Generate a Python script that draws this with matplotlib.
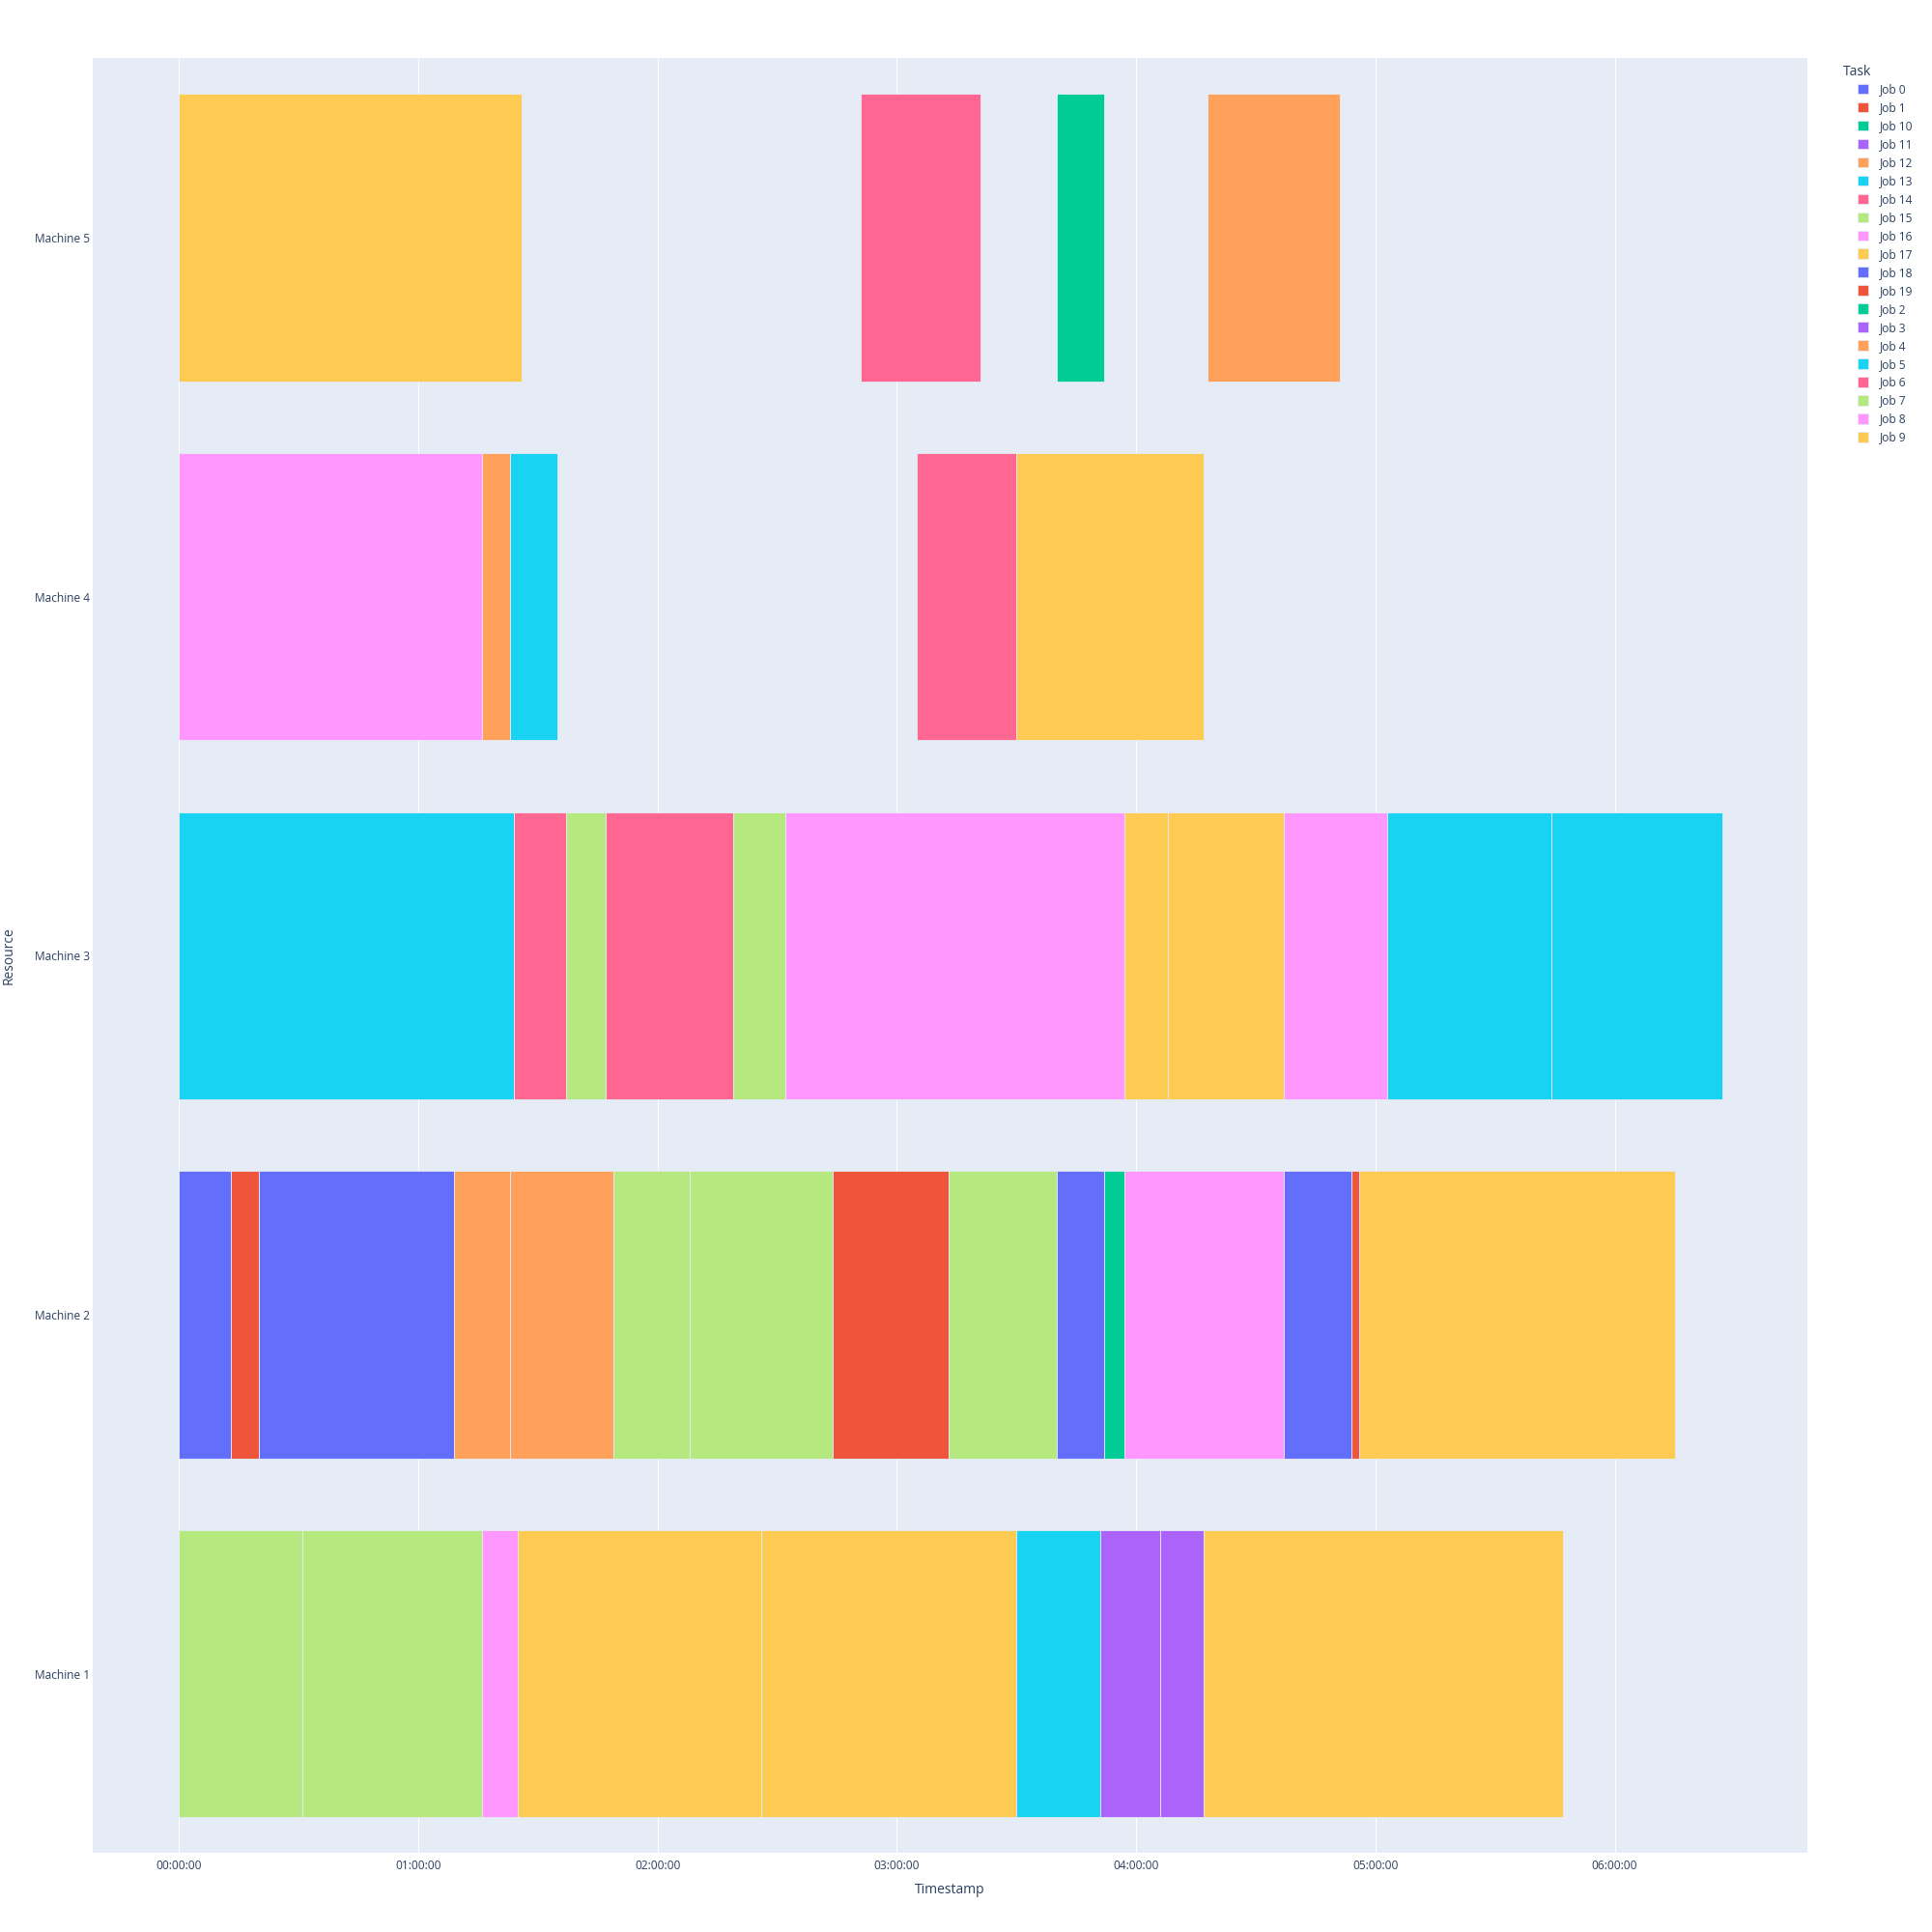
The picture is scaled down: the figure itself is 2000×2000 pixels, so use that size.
import matplotlib
matplotlib.use("Agg")
import matplotlib.pyplot as plt
from matplotlib.patches import Patch

# schedule (minutes from start)
machines = ["Machine 1"] * 9 + ["Machine 2"] * 15 + ["Machine 3"] * 11 + ["Machine 4"] * 5 + ["Machine 5"] * 4
jobs = [
    "Job 7", "Job 15", "Job 8", "Job 17", "Job 9", "Job 13", "Job 3", "Job 11", "Job 17",
    "Job 0", "Job 1", "Job 18", "Job 4", "Job 12", "Job 7", "Job 15", "Job 19", "Job 7",
    "Job 0", "Job 2", "Job 16", "Job 18", "Job 1", "Job 9",
    "Job 5", "Job 6", "Job 15", "Job 14", "Job 7", "Job 8", "Job 17", "Job 9", "Job 16",
    "Job 13", "Job 5",
    "Job 16", "Job 12", "Job 13", "Job 14", "Job 17",
    "Job 9", "Job 6", "Job 10", "Job 4",
]
start_min = [
    0, 31, 76, 85, 146, 210, 231, 246, 257,
    0, 13, 20, 69, 83, 109, 128, 164, 193, 220, 232, 237, 277, 294, 296,
    0, 84, 97, 107, 139, 152, 237, 248, 277, 303, 344,
    0, 76, 83, 185, 210,
    0, 171, 220, 258,
]
end_min = [
    31, 76, 85, 146, 210, 231, 246, 257, 347,
    13, 20, 69, 83, 109, 128, 164, 193, 220, 232, 237, 277, 294, 296, 375,
    84, 97, 107, 139, 152, 237, 248, 277, 303, 344, 387,
    76, 83, 95, 210, 257,
    86, 201, 232, 291,
]

machine_order = ["Machine 1", "Machine 2", "Machine 3", "Machine 4", "Machine 5"]
job_names = ["Job %d" % i for i in range(20)]
job_names_sorted = sorted(job_names)  # plotly legend order: Job 0, Job 1, Job 10, ...
palette = ["#636EFA", "#EF553B", "#00CC96", "#AB63FA", "#FFA15A",
           "#19D3F3", "#FF6692", "#B6E880", "#FF97FF", "#FECB52"]
job_color = {j: palette[i % 10] for i, j in enumerate(job_names_sorted)}

txt = "#2a3f5f"
plt.rcParams['font.family'] = ['Open Sans', 'DejaVu Sans']

fig = plt.figure(figsize=(20, 20), dpi=100)
ax = fig.add_axes([0.048, 0.0408, 0.8875, 0.9292])
ax.set_facecolor("#E5ECF6")

for m, j, s, e in zip(machines, jobs, start_min, end_min):
    y = machine_order.index(m)
    ax.barh(y, (e - s) / 60, left=s / 60, height=0.8, color=job_color[j],
            edgecolor="#E5ECF6", linewidth=0.6, zorder=3)

ax.set_xlim(-0.36, 6.805)
ax.set_ylim(-0.5, 4.5)
ax.set_xticks(range(7))
ax.set_xticklabels(["%02d:00:00" % h for h in range(7)])
ax.set_yticks(range(5))
ax.set_yticklabels(machine_order)
ax.tick_params(length=0, labelsize=8.6, labelcolor=txt)
ax.tick_params(axis="x", pad=5)
ax.tick_params(axis="y", pad=2)
ax.grid(axis="x", color="white", linewidth=0.8, zorder=0)
ax.set_axisbelow(True)
for sp in ax.spines.values():
    sp.set_visible(False)

ax.set_xlabel("Timestamp", fontsize=10, color=txt, labelpad=8)
fig.text(0.001, 0.0408 + 0.9292 / 2, "Resource", rotation=90, fontsize=10, color=txt,
         va="center", ha="left")

# legend
fig.text(0.954, 1 - 74 / 2000, "Task", fontsize=10, color=txt, va="center", ha="left")
handles = [Patch(facecolor=job_color[j], edgecolor="#E5ECF6", linewidth=0.5, label=j) for j in job_names_sorted]
leg = fig.legend(handles=handles, loc="upper left", bbox_to_anchor=(0.9615, 0.957), frameon=False,
                 fontsize=8.6, handlelength=0.95, handleheight=0.95,
                 labelspacing=0.5, handletextpad=1.0, borderaxespad=0, borderpad=0)
for t in leg.get_texts():
    t.set_color(txt)

fig.savefig("out.png", facecolor="white")
